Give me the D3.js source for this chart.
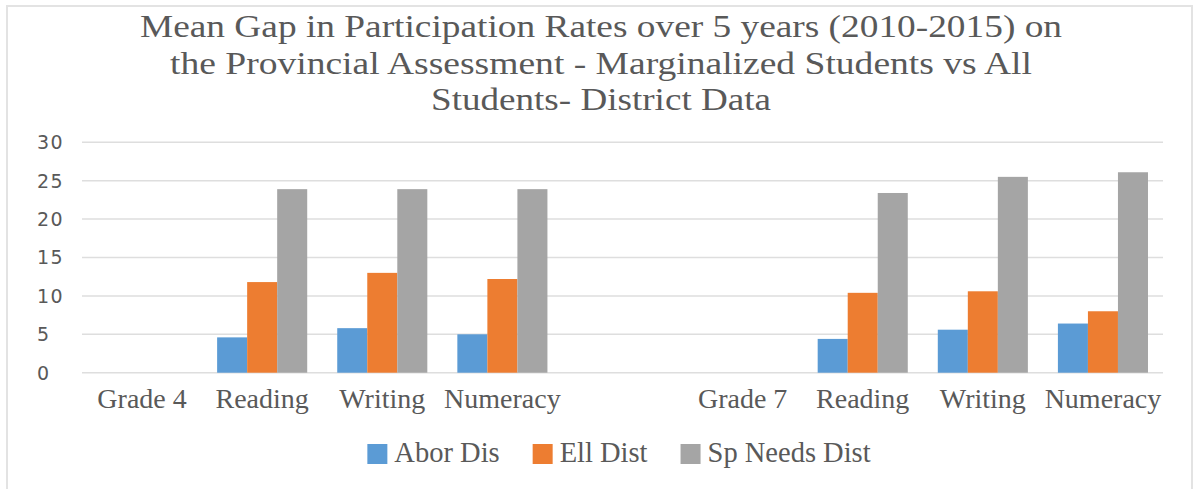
<!DOCTYPE html>
<html>
<head>
<meta charset="utf-8">
<script src="https://cdn.jsdelivr.net/npm/d3@7"></script>
<style>
  html, body { margin: 0; padding: 0; background: #fff; }
  svg { display: block; }
  .serif { font-family: "Liberation Serif", "Times New Roman", "DejaVu Serif", serif; }
</style>
</head>
<body>
<svg id="chart" width="1196" height="489"></svg>
<script>
// ---- data ----
const titleLines = [
  "Mean Gap in Participation Rates over 5 years (2010-2015) on",
  "the Provincial Assessment - Marginalized Students vs All",
  "Students- District Data"
];
const categories = ["Grade 4", "Reading", "Writing", "Numeracy", "", "Grade 7", "Reading", "Writing", "Numeracy"];
const seriesNames = ["Abor Dis", "Ell Dist", "Sp Needs Dist"];
const aborDis    = [null, 4.6, 5.8, 5.0, null, null, 4.4, 5.6, 6.4];
const ellDist    = [null, 11.8, 13.0, 12.2, null, null, 10.4, 10.6, 8.0];
const spNeeds    = [null, 23.9, 23.9, 23.9, null, null, 23.4, 25.5, 26.1];
const yTicks = [0, 5, 10, 15, 20, 25, 30];
const colors = ["#5b9bd5", "#ed7d31", "#a5a5a5"];

const seriesValues = [aborDis, ellDist, spNeeds];
const titleWidths = [922, 862, 340];

const svg = d3.select("#chart");
const textColor = "#595959";

// border
svg.append("rect")
  .attr("x", 7).attr("y", 6).attr("width", 1185).attr("height", 520)
  .attr("fill", "none").attr("stroke", "#e3e3e3").attr("stroke-width", 2);

// title
svg.append("g").selectAll("text").data(titleLines).join("text")
  .attr("class", "serif")
  .attr("x", 601)
  .attr("y", (d, i) => 37 + i * 36.5)
  .attr("text-anchor", "middle")
  .attr("font-size", 31.5)
  .attr("textLength", (d, i) => titleWidths[i])
  .attr("lengthAdjust", "spacingAndGlyphs")
  .attr("fill", textColor)
  .text(d => d);

// scales
const x = d3.scaleBand().domain(d3.range(categories.length)).range([82, 1163]).paddingInner(0).paddingOuter(0);
const xs = d3.scaleBand().domain(d3.range(seriesNames.length)).range([0, x.bandwidth()]).paddingInner(0).paddingOuter(0.5);
const y = d3.scaleLinear().domain([0, 30]).range([372.7, 142.3]);

// gridlines
svg.append("g").selectAll("line").data(yTicks).join("line")
  .attr("x1", 82).attr("x2", 1163)
  .attr("y1", d => y(d)).attr("y2", d => y(d))
  .attr("stroke", "#dedede").attr("stroke-width", 1.5);

// y labels (left aligned as in reference)
svg.append("g").selectAll("text").data(yTicks).join("text")
  .attr("x", 37)
  .attr("y", d => y(d))
  .attr("dy", "0.36em")
  .attr("font-family", "'DejaVu Sans', Verdana, sans-serif")
  .attr("font-size", 19)
  .attr("letter-spacing", 1.5)
  .attr("fill", textColor)
  .text(d => d);

// bars
const barData = [];
seriesValues.forEach((vals, s) => {
  vals.forEach((v, c) => { if (v != null) barData.push({ s, c, v }); });
});
svg.append("g").selectAll("rect").data(barData).join("rect")
  .attr("x", d => x(d.c) + xs(d.s))
  .attr("width", xs.bandwidth())
  .attr("y", d => y(d.v))
  .attr("height", d => y(0) - y(d.v))
  .attr("fill", d => colors[d.s]);

// x labels
svg.append("g").selectAll("text").data(categories.map((c, i) => ({ c, i }))).join("text")
  .attr("class", "serif")
  .attr("x", d => x(d.i) + x.bandwidth() / 2)
  .attr("y", 408)
  .attr("text-anchor", "middle")
  .attr("font-size", 28)
  .attr("fill", textColor)
  .text(d => d.c);

// legend
const leg = svg.append("g");
let cx = 0;
seriesNames.forEach((name, i) => {
  const g = leg.append("g");
  g.append("rect").attr("x", cx).attr("y", 444).attr("width", 20).attr("height", 20).attr("fill", colors[i]);
  const t = g.append("text")
    .attr("class", "serif")
    .attr("x", cx + 27).attr("y", 462)
    .attr("font-size", 28.5)
    .attr("fill", textColor)
    .text(name);
  const w = t.node().getComputedTextLength();
  cx = cx + 27 + w + 33;
});
const totalW = cx - 33;
leg.attr("transform", `translate(${619 - totalW / 2},0)`);
</script>
</body>
</html>
